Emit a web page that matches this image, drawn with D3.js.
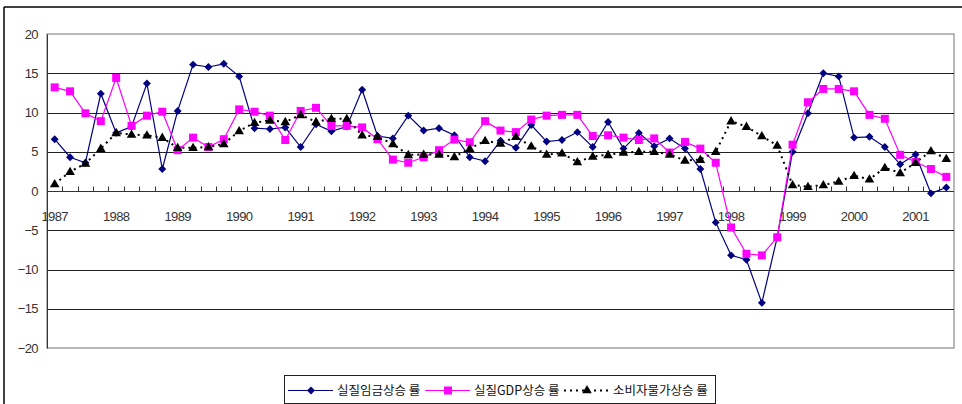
<!DOCTYPE html>
<html>
<head>
<meta charset="utf-8">
<script src="https://cdn.jsdelivr.net/npm/d3@7.9.0/dist/d3.min.js"></script>
<style>
  body { margin: 0; background: #fff; }
  text { font-family: "Liberation Sans", Arial, sans-serif; fill: #333; }
  .legend text { font-family: "Noto Sans CJK KR", sans-serif; fill: #111; }
</style>
</head>
<body>
<div id="chart"></div>
<script>
// quarterly, 1987 Q1 .. 2001 Q3
const years = d3.range(1987, 2002);
const quarters = years.flatMap(y => [1, 2, 3, 4].map(q => `${y}Q${q}`)).slice(0, 59);
const yearLabels = years.map(String);
const yTicks = [-20, -15, -10, -5, 0, 5, 10, 15, 20];

const wage = [6.6, 4.3, 3.6, 12.4, 7.4, 8.2, 13.7, 2.8, 10.2, 16.1, 15.8, 16.2, 14.6, 8.0, 7.9, 8.1, 5.6, 8.5, 7.6,
  8.2, 12.9, 7.0, 6.7, 9.6, 7.7, 8.0, 7.1, 4.3, 3.8, 6.4, 5.5, 8.4, 6.3, 6.5, 7.5, 5.6, 8.8, 5.4, 7.4,
  5.7, 6.7, 5.4, 2.8, -4.0, -8.2, -8.75, -14.25, -5.9, 5.0, 9.9, 15.0, 14.6, 6.8, 6.9, 5.6, 3.4, 4.65, -0.3, 0.45];
const gdp = [13.2, 12.7, 9.9, 8.9, 14.4, 8.3, 9.6, 10.1, 5.2, 6.8, 5.6, 6.6, 10.4, 10.1, 9.6, 6.5, 10.2, 10.6, 8.3,
  8.3, 8.1, 6.6, 4.0, 3.6, 4.3, 5.2, 6.55, 6.2, 8.9, 7.7, 7.5, 9.1, 9.6, 9.7, 9.7, 7.0, 7.1, 6.8, 6.5,
  6.7, 4.9, 6.25, 5.4, 3.6, -4.65, -8.0, -8.2, -5.9, 5.9, 11.3, 13.0, 13.0, 12.7, 9.7, 9.2, 4.6, 3.7, 2.8, 1.8];
const cpi = [0.9, 2.45, 3.5, 5.4, 7.4, 7.2, 7.1, 6.8, 5.5, 5.5, 5.6, 6.0, 7.65, 8.7, 9.0, 8.8, 9.7, 8.8, 9.2,
  9.2, 7.1, 6.9, 6.0, 4.6, 4.65, 4.65, 4.35, 5.4, 6.4, 6.05, 6.9, 5.7, 4.65, 4.8, 3.7, 4.4, 4.6, 4.9, 5.0,
  5.0, 4.65, 3.9, 4.0, 5.0, 8.9, 8.2, 7.0, 5.8, 0.76, 0.55, 0.76, 1.2, 1.95, 1.5, 2.96, 2.3, 3.6, 5.1, 4.1];

const seriesNames = ["실질임금상승 률", "실질GDP상승 률", "소비자물가상승 률"];

const W = 962, H = 404;
const PLOT = { left: 47, right: 954, top: 34, bottom: 348 };

const svg = d3.select('#chart').append('svg')
  .attr('width', W)
  .attr('height', H);

// outer chart frame (only top and left show)
svg.append('line').attr('x1', 4).attr('x2', W).attr('y1', 7).attr('y2', 7)
  .attr('stroke', '#000').attr('stroke-width', 1.5);
svg.append('line').attr('x1', 4).attr('x2', 4).attr('y1', 7).attr('y2', H)
  .attr('stroke', '#000').attr('stroke-width', 1.5);

const x = d3.scaleBand().domain(quarters).range([PLOT.left, PLOT.right]).padding(0);
const y = d3.scaleLinear().domain([-20, 20]).range([PLOT.bottom, PLOT.top]);
const cx = i => x(quarters[i]) + x.bandwidth() / 2;

// plot area border
svg.append('rect')
  .attr('x', PLOT.left).attr('y', PLOT.top)
  .attr('width', PLOT.right - PLOT.left).attr('height', PLOT.bottom - PLOT.top)
  .attr('fill', 'none').attr('stroke', '#8a8a8a').attr('stroke-width', 1.2);

// gridlines
svg.append('g')
  .selectAll('line')
  .data(yTicks.filter(d => d !== 20 && d !== -20 && d !== 0))
  .join('line')
  .attr('x1', PLOT.left).attr('x2', PLOT.right)
  .attr('y1', d => Math.round(y(d)) + 0.5).attr('y2', d => Math.round(y(d)) + 0.5)
  .attr('stroke', '#222').attr('stroke-width', 1);

// y axis
const yAxis = svg.append('g')
  .attr('transform', `translate(${PLOT.left},0)`)
  .call(d3.axisLeft(y).tickValues(yTicks).tickSize(0).tickPadding(9));
yAxis.select('.domain').attr('stroke', '#333');
yAxis.selectAll('text').attr('font-size', 13).attr('letter-spacing', '-0.6px').attr('fill', '#333');

// category axis on zero line, ticks pointing up
const zeroY = Math.round(y(0)) + 0.5;
svg.append('line')
  .attr('x1', PLOT.left).attr('x2', PLOT.right)
  .attr('y1', zeroY).attr('y2', zeroY)
  .attr('stroke', '#333').attr('stroke-width', 1.2);
svg.append('g')
  .selectAll('line')
  .data(quarters.slice(1))
  .join('line')
  .attr('x1', d => Math.round(x(d)) + 0.5).attr('x2', d => Math.round(x(d)) + 0.5)
  .attr('y1', zeroY).attr('y2', zeroY - 5)
  .attr('stroke', '#333');

svg.append('g')
  .selectAll('text')
  .data(yearLabels)
  .join('text')
  .attr('x', (d, i) => cx(i * 4))
  .attr('y', zeroY + 29)
  .attr('text-anchor', 'middle')
  .attr('font-size', 13)
  .attr('letter-spacing', '-0.6px')
  .text(d => d);

// series
const line = d3.line().x((d, i) => cx(i)).y(d => y(d));

const diamond = d3.symbol().type(d3.symbolDiamond2).size(40);
const square = d3.symbol().type(d3.symbolSquare).size(64);
const triangle = d3.symbol().type(d3.symbolTriangle).size(40);

// wage
svg.append('path').datum(wage)
  .attr('d', line).attr('fill', 'none').attr('stroke', '#000080').attr('stroke-width', 1.2);
svg.append('g').selectAll('path').data(wage).join('path')
  .attr('transform', (d, i) => `translate(${cx(i)},${y(d)})`)
  .attr('d', diamond).attr('fill', '#000080');

// gdp
svg.append('path').datum(gdp)
  .attr('d', line).attr('fill', 'none').attr('stroke', '#ff00ff').attr('stroke-width', 1.2);
svg.append('g').selectAll('path').data(gdp).join('path')
  .attr('transform', (d, i) => `translate(${cx(i)},${y(d)})`)
  .attr('d', square).attr('fill', '#ff00ff');

// cpi
svg.append('path').datum(cpi)
  .attr('d', line).attr('fill', 'none').attr('stroke', '#000').attr('stroke-width', 2)
  .attr('stroke-dasharray', '2,4');
svg.append('g').selectAll('path').data(cpi).join('path')
  .attr('transform', (d, i) => `translate(${cx(i)},${y(d) + 0.5})`)
  .attr('d', triangle).attr('fill', '#000');

// legend
const legend = svg.append('g').attr('class', 'legend');
legend.append('rect')
  .attr('x', 284.5).attr('y', 375.5).attr('width', 431).attr('height', 28)
  .attr('fill', '#fff').attr('stroke', '#222').attr('stroke-width', 1);

const legendItems = [
  { label: seriesNames[0], x: 288, color: '#000080', sym: diamond },
  { label: seriesNames[1], x: 425, color: '#ff00ff', sym: square },
  { label: seriesNames[2], x: 564, color: '#000', sym: triangle, dashed: true }
];
const ly = 390.5;
legendItems.forEach(item => {
  legend.append('line')
    .attr('x1', item.x).attr('x2', item.x + 45)
    .attr('y1', ly).attr('y2', ly)
    .attr('stroke', item.color)
    .attr('stroke-width', item.dashed ? 2 : 1.2)
    .attr('stroke-dasharray', item.dashed ? '2,4' : null);
  legend.append('path')
    .attr('transform', `translate(${item.x + 23},${ly})`)
    .attr('d', item.sym).attr('fill', item.color);
  legend.append('text')
    .attr('x', item.x + 49).attr('y', ly + 4.5)
    .attr('font-size', 12.5)
    .text(item.label);
});
</script>
</body>
</html>
